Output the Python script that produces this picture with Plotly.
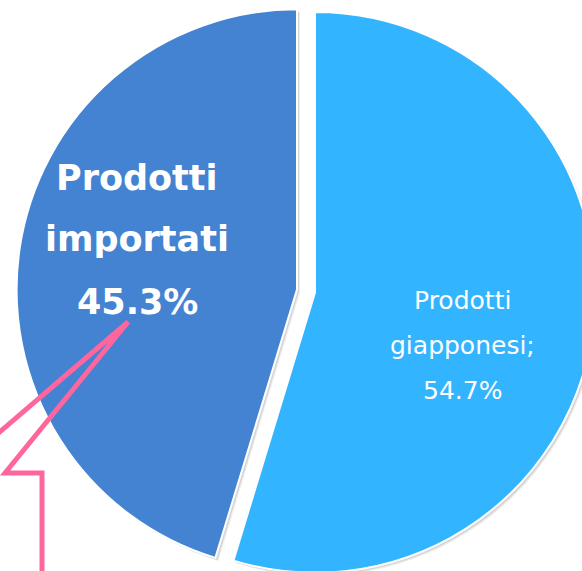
import plotly.graph_objects as go

# ---- data ----
labels = ["Prodotti giapponesi", "Prodotti importati"]
values = [54.7, 45.3]
colors = ["#33B4FF", "#4483D1"]
label_lines = [["Prodotti", "giapponesi;"], ["Prodotti", "importati"]]

W, H = 605, 590
FONT = "DejaVu Sans"


def px(x):
    return x / W


def py(y):
    return 1 - y / H


cx, cy, half = 306.0, 291.0, 289.5
pull = 0.0325
dom_x = [px(cx - half), px(cx + half)]
dom_y = [py(cy + half), py(cy - half)]

fig = go.Figure()

# soft shadow copy
for off, alpha in [(3.0, 0.07), (2.0, 0.10)]:
    fig.add_trace(go.Pie(
        labels=labels, values=values, sort=False, direction="clockwise", rotation=0,
        pull=[pull, pull], textinfo="none", hoverinfo="skip", showlegend=False,
        marker=dict(colors=[f"rgba(0,0,0,{alpha})"] * 2, line=dict(width=0)),
        domain=dict(x=[dom_x[0] + off / W, dom_x[1] + off / W],
                    y=[dom_y[0] - off / H, dom_y[1] - off / H]),
    ))

fig.add_trace(go.Pie(
    labels=labels, values=values, sort=False, direction="clockwise", rotation=0,
    pull=[pull, pull], textinfo="none", showlegend=False,
    marker=dict(colors=colors, line=dict(color="white", width=2)),
    domain=dict(x=dom_x, y=dom_y),
))

annotations = []
# light slice label (regular)
light_lines = label_lines[0] + [f"{values[0]:.1f}%"]
for t, yc in zip(light_lines, [300, 345, 390]):
    annotations.append(dict(x=px(462), y=py(yc), xref="paper", yref="paper",
                            text=t, showarrow=False, xanchor="center", yanchor="middle",
                            font=dict(family=FONT, size=25, color="white")))
# dark slice label (bold)
dark_lines = label_lines[1] + [f"{values[1]:.1f}%"]
for t, yc in zip(dark_lines, [178, 239, 302]):
    annotations.append(dict(x=px(137), y=py(yc), xref="paper", yref="paper",
                            text=f"<b>{t}</b>", showarrow=False, xanchor="center", yanchor="middle",
                            font=dict(family=FONT, size=35, color="white")))

pts = [(-5, 436), (128, 322), (5, 473), (42, 473), (42, 600)]
path = "M " + " L ".join(f"{px(x):.5f},{py(y):.5f}" for x, y in pts)
shapes = [dict(type="path", xref="paper", yref="paper", path=path,
               line=dict(color="#FF669E", width=5), layer="above")]

fig.update_layout(
    width=W, height=H, margin=dict(l=0, r=0, t=0, b=0),
    paper_bgcolor="white", plot_bgcolor="white",
    annotations=annotations, shapes=shapes, showlegend=False,
)

fig.write_html("out.html", config={"displayModeBar": False}, post_script=(
    "document.body.style.margin='0';document.body.style.overflow='hidden';"
    "document.documentElement.style.overflow='hidden';"))
